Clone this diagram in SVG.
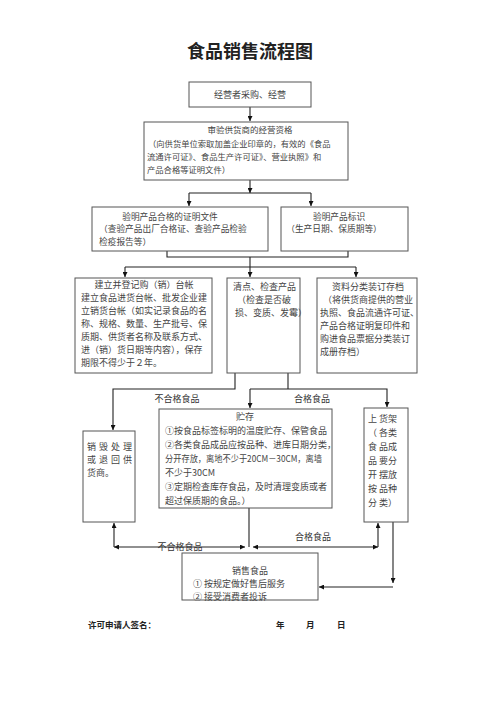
<svg xmlns="http://www.w3.org/2000/svg" width="500" height="707" viewBox="0 0 500 707">
<style>
.bg{fill:#fff}
.box{fill:#fff;stroke:#555;stroke-width:1}
.t{font-family:"Noto Sans CJK SC","Noto Sans",sans-serif;fill:#444;font-size:9px}
.c{text-anchor:middle}
.ln{fill:none;stroke:#222;stroke-width:1.1}
.lb{font-family:"Noto Sans CJK SC","Noto Sans",sans-serif;fill:#333;font-size:9px;text-anchor:middle}
.title{font-family:"Noto Sans CJK SC","Noto Sans",sans-serif;font-size:18px;font-weight:bold;fill:#222;text-anchor:middle}
.foot{font-family:"Noto Sans CJK SC","Noto Sans",sans-serif;font-size:8.5px;font-weight:bold;fill:#222}
</style>
<defs>
<marker id="ah" viewBox="0 0 8 8" refX="8" refY="4" markerUnits="userSpaceOnUse" markerWidth="5" markerHeight="5" orient="auto-start-reverse">
<path d="M0,0 L8,4 L0,8 z" fill="#111"/>
</marker>
</defs>
<rect class="bg" x="0" y="0" width="500" height="707"/>
<text class="title" x="250" y="58">食品销售流程图</text>

<g id="connectors">
<path class="ln" d="M250,107 V121" marker-end="url(#ah)"/>
<path class="ln" d="M250,180 V193" marker-end="url(#ah)"/>
<path class="ln" d="M189,193 H311"/>
<path class="ln" d="M189,193 V206" marker-end="url(#ah)"/>
<path class="ln" d="M311,193 V206" marker-end="url(#ah)"/>
<path class="ln" d="M167,251 V257 H348 V251"/>
<path class="ln" d="M250,257 V267"/>
<path class="ln" d="M125,267 H356"/>
<path class="ln" d="M125,267 V277" marker-end="url(#ah)"/>
<path class="ln" d="M250,267 V277" marker-end="url(#ah)"/>
<path class="ln" d="M356,267 V277" marker-end="url(#ah)"/>
<path class="ln" d="M235,373 V389 H113 V430" marker-end="url(#ah)"/>
<path class="ln" d="M288,373 V389"/>
<path class="ln" d="M250,389 H387 V407" marker-end="url(#ah)"/>
<path class="ln" d="M250,389 V408" marker-end="url(#ah)"/>
<path class="ln" d="M249,508 V547"/>
<path class="ln" d="M245,547 H114" marker-start="url(#ah)" marker-end="url(#ah)"/>
<path class="ln" d="M253,547 H378" marker-start="url(#ah)" marker-end="url(#ah)"/>
<path class="ln" d="M114,547 V523" marker-end="url(#ah)"/>
<path class="ln" d="M378,547 V523" marker-end="url(#ah)"/>
<path class="ln" d="M393,522 V583" marker-end="url(#ah)"/>
<path class="ln" d="M393,587 H319" marker-end="url(#ah)"/>
<text class="lb" x="177" y="402">不合格食品</text>
<text class="lb" x="312" y="402">合格食品</text>
<text class="lb" x="180" y="550">不合格食品</text>
<text class="lb" x="313" y="540">合格食品</text>
</g>

<g id="n1">
<rect class="box" x="189" y="82" width="122" height="25"/>
<text class="t c" x="250" y="98">经营者采购、经营</text>
</g>

<g id="n2">
<rect class="box" x="144" y="122" width="204" height="58"/>
<text class="t c" x="250" y="133" style="font-size:8.5px">审验供货商的经营资格</text>
<text class="t" x="148" y="147" style="font-size:8.3px">（向供货单位索取加盖企业印章的，有效的《食品</text>
<text class="t" x="147" y="160" style="font-size:8.3px">流通许可证》、食品生产许可证》、营业执照》和</text>
<text class="t" x="147" y="173" style="font-size:8.3px">产品合格等证明文件）</text>
</g>

<g id="n3a">
<rect class="box" x="92" y="207" width="176" height="44"/>
<text class="t c" x="170" y="220" style="font-size:8.7px">验明产品合格的证明文件</text>
<text class="t" x="99" y="232" style="font-size:8.7px">（查验产品出厂合格证、查验产品检验</text>
<text class="t" x="99" y="245" style="font-size:8.7px">检疫报告等）</text>
</g>

<g id="n3b">
<rect class="box" x="281" y="207" width="127" height="44"/>
<text class="t c" x="339" y="220" style="font-size:8.7px">验明产品标识</text>
<text class="t c" x="334" y="232" style="font-size:8.7px">（生产日期、保质期等）</text>
</g>

<g id="n4a">
<rect class="box" x="75" y="278" width="137" height="95"/>
<text class="t c" x="144" y="288">建立并登记购（销）台帐</text>
<text class="t" x="81" y="301">建立食品进货台帐、批发企业建</text>
<text class="t" x="81" y="314">立销货台帐（如实记录食品的名</text>
<text class="t" x="81" y="327">称、规格、数量、生产批号、保</text>
<text class="t" x="81" y="340">质期、供货者名称及联系方式、</text>
<text class="t" x="81" y="353">进（销）货日期等内容），保存</text>
<text class="t" x="81" y="366">期限不得少于２年。</text>
</g>

<g id="n4b">
<rect class="box" x="227" y="278" width="73" height="95"/>
<text class="t" x="233" y="290">清点、检查产品</text>
<text class="t" x="237" y="303">（检查是否破</text>
<text class="t" x="235" y="316">损、变质、发霉）</text>
</g>

<g id="n4c">
<rect class="box" x="317" y="278" width="100" height="95"/>
<text class="t c" x="368" y="290">资料分类装订存档</text>
<text class="t" x="323" y="303">（将供货商提供的营业</text>
<text class="t" x="320" y="316">执照、食品流通许可证、</text>
<text class="t" x="320" y="329">产品合格证明复印件和</text>
<text class="t" x="320" y="342">购进食品票据分类装订</text>
<text class="t" x="320" y="355">成册存档）</text>
</g>

<g id="n5a">
<rect class="box" x="83" y="431" width="52" height="91"/>
<text class="t" x="87" y="450" style="letter-spacing:3px">销毁处理</text>
<text class="t" x="87" y="463" style="letter-spacing:3px">或退回供</text>
<text class="t" x="87" y="476">货商。</text>
</g>

<g id="n5b">
<rect class="box" x="159" y="409" width="173" height="99"/>
<text class="t c" x="245" y="420">贮存</text>
<text class="t" x="165" y="434">①按食品标签标明的温度贮存、保管食品</text>
<text class="t" x="165" y="448">②各类食品成品应按品种、进库日期分类，</text>
<text class="t" x="165" y="462" textLength="157" lengthAdjust="spacingAndGlyphs">分开存放，离地不少于20CM－30CM，离墙</text>
<text class="t" x="165" y="476">不少于30CM</text>
<text class="t" x="165" y="490">③定期检查库存食品，及时清理变质或者</text>
<text class="t" x="165" y="504">超过保质期的食品。）</text>
</g>

<g id="n5c">
<rect class="box" x="364" y="408" width="44" height="114"/>
<text class="t" x="368" y="422">上 货架</text>
<text class="t" x="368" y="436">（ 各类</text>
<text class="t" x="368" y="450">食 品成</text>
<text class="t" x="368" y="464">品 要分</text>
<text class="t" x="368" y="478">开 摆放</text>
<text class="t" x="368" y="492">按 品种</text>
<text class="t" x="368" y="506">分 类）</text>
</g>

<g id="n6">
<rect class="box" x="182" y="553" width="136" height="47"/>
<text class="t c" x="250" y="574">销售食品</text>
<text class="t" x="193" y="587">①  按规定做好售后服务</text>
<text class="t" x="193" y="600">②  接受消费者投诉</text>
</g>

<text class="foot" x="88" y="628">许可申请人签名：</text>
<text class="foot" x="276" y="628">年</text>
<text class="foot" x="306" y="628">月</text>
<text class="foot" x="337" y="628">日</text>
</svg>
